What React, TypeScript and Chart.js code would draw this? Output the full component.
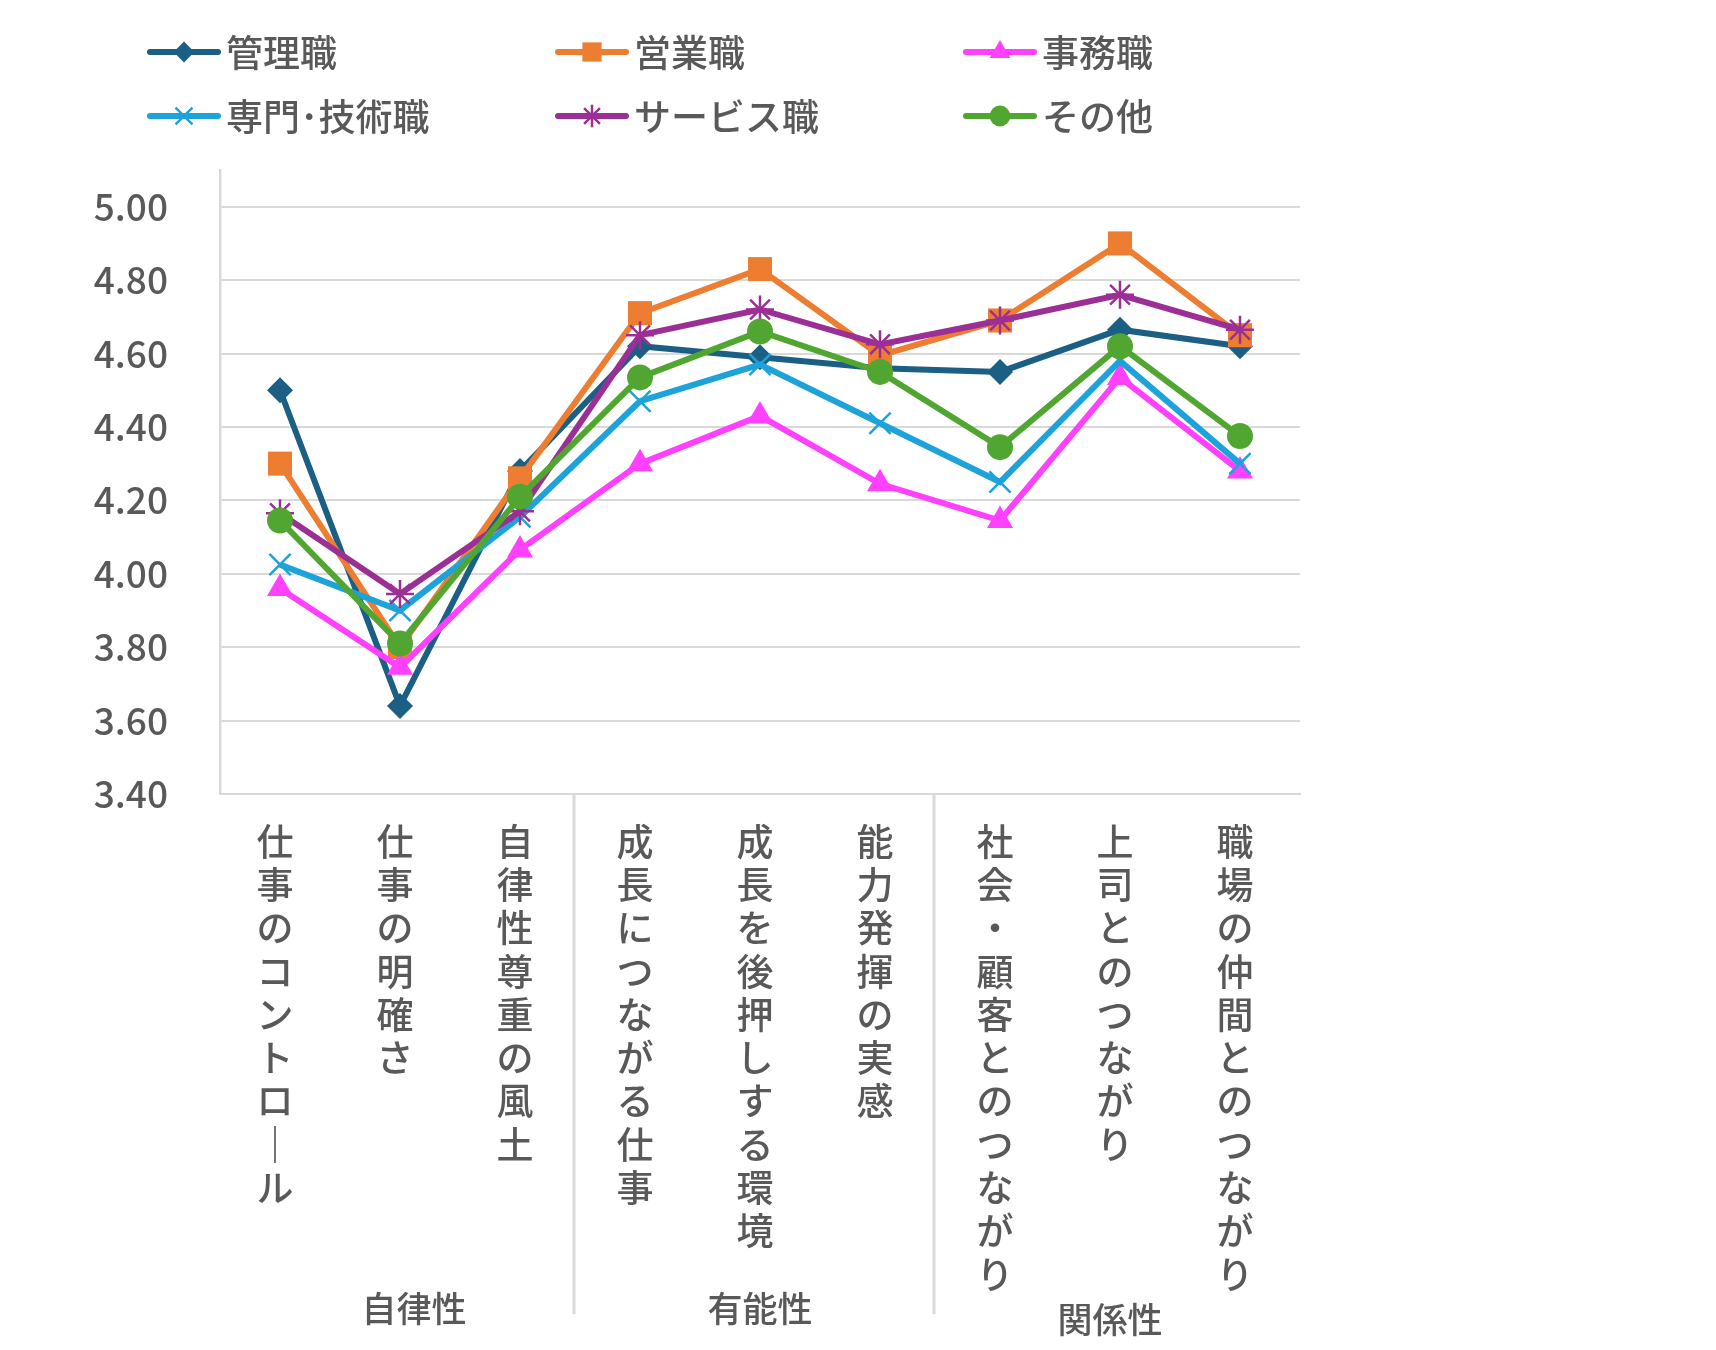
import { Chart, registerables } from "chart.js"
import { drawPoint } from "chart.js/helpers"
import { useEffect, useRef } from "react"

Chart.register(...registerables)

// 設問項目（横軸）
const categories = [
    "仕事のコントロール",
    "仕事の明確さ",
    "自律性尊重の風土",
    "成長につながる仕事",
    "成長を後押しする環境",
    "能力発揮の実感",
    "社会・顧客とのつながり",
    "上司とのつながり",
    "職場の仲間とのつながり",
]
const groups = ["自律性", "有能性", "関係性"]
const groupSizes = [3, 3, 3]

const seriesNames = ["管理職", "営業職", "事務職", "専門･技術職", "サービス職", "その他"]
const kanri = [4.50, 3.64, 4.28, 4.62, 4.59, 4.56, 4.55, 4.665, 4.62]
const eigyo = [4.30, 3.80, 4.26, 4.71, 4.83, 4.595, 4.69, 4.90, 4.65]
const jimu = [3.96, 3.745, 4.065, 4.30, 4.43, 4.245, 4.145, 4.535, 4.28]
const senmon = [4.025, 3.90, 4.155, 4.47, 4.57, 4.41, 4.25, 4.58, 4.30]
const service = [4.165, 3.945, 4.17, 4.65, 4.72, 4.625, 4.69, 4.76, 4.665]
const sonota = [4.145, 3.81, 4.21, 4.535, 4.66, 4.55, 4.345, 4.62, 4.375]

const yTicks = [3.4, 3.6, 3.8, 4.0, 4.2, 4.4, 4.6, 4.8, 5.0]

const colors = ["#1c5f84", "#ed7d31", "#ff40ff", "#1ea2da", "#9c2f96", "#51a632"]
const markers = ["rectRot", "rect", "triangle", "crossRot", "star", "circle"]
const markerSizes = [13, 17, 15, 15, 14, 13]

const FONT = "'Noto Sans CJK JP', 'Noto Sans', sans-serif"
const TEXT = "#595959"
const GRID = "#d9d9d9"

const allSeries = [kanri, eigyo, jimu, senmon, service, sonota]

// 縦書きラベル：1文字ずつ改行
const toVertical = (s: string) => s.split("").map(c => (c === "ー" ? "｜" : c))

const legendPlugin = {
    id: "gridLegend",
    afterDraw(chart: any) {
        const ctx = chart.ctx
        ctx.save()
        chart.data.datasets.forEach((ds: any, i: number) => {
            const x = 142 + (i % 3) * 408
            const y = 44 + Math.floor(i / 3) * 64
            ctx.strokeStyle = ds.borderColor
            ctx.lineWidth = 6
            ctx.lineCap = "round"
            ctx.beginPath()
            ctx.moveTo(x, y)
            ctx.lineTo(x + 68, y)
            ctx.stroke()
            ctx.lineCap = "butt"
            ctx.fillStyle = ds.pointBackgroundColor
            ctx.strokeStyle = ds.pointBorderColor
            ctx.lineWidth = ds.pointBorderWidth
            drawPoint(ctx, { pointStyle: ds.pointStyle, rotation: 0, borderWidth: ds.pointBorderWidth, radius: ds.pointRadius * 0.8 }, x + 34, y)
            ctx.fillStyle = TEXT
            ctx.font = `500 37px ${FONT}`
            ctx.textBaseline = "middle"
            ctx.textAlign = "left"
            ctx.fillText(ds.label, x + 76, y + 1)
        })
        ctx.restore()
    },
}

const groupPlugin = {
    id: "groupAxis",
    afterDraw(chart: any) {
        const ctx = chart.ctx
        const xs = chart.scales.x
        const bottom = chart.chartArea.bottom
        ctx.save()
        let start = 0
        groups.forEach((g, gi) => {
            const end = start + groupSizes[gi]
            if (gi > 0) {
                const sx = xs.getPixelForValue(start - 0.5) - 6
                ctx.strokeStyle = GRID
                ctx.lineWidth = 3
                ctx.beginPath()
                ctx.moveTo(sx, bottom)
                ctx.lineTo(sx, 1306)
                ctx.stroke()
            }
            const cx = xs.getPixelForValue((start + end - 1) / 2)
            ctx.fillStyle = TEXT
            ctx.font = `500 35px ${FONT}`
            ctx.textAlign = "center"
            ctx.textBaseline = "middle"
            ctx.fillText(g, cx + (gi === 0 ? 14 : gi === 2 ? -10 : 0), gi === 2 ? 1312 : 1301)
            start = end
        })
        ctx.restore()
    },
}

const App = () => {
    const canvasRef = useRef<HTMLCanvasElement>(null)

    useEffect(() => {
        if (!canvasRef.current) return
        const myChart = new Chart(canvasRef.current, {
            type: "line",
            data: {
                labels: categories,
                datasets: seriesNames.map((name, i) => ({
                    label: name,
                    data: allSeries[i],
                    borderColor: colors[i],
                    backgroundColor: colors[i],
                    borderWidth: 6,
                    pointStyle: markers[i] as any,
                    pointRadius: markerSizes[i],
                    pointHoverRadius: markerSizes[i],
                    pointBackgroundColor: colors[i],
                    pointBorderColor: colors[i],
                    pointBorderWidth: markers[i] === "crossRot" || markers[i] === "star" ? 2.5 : 0,
                    tension: 0,
                    order: seriesNames.length - i,
                })),
            },
            options: {
                animation: false,
                responsive: false,
                devicePixelRatio: 1,
                layout: { padding: { top: 162, right: 408, left: 0, bottom: 0 } },
                plugins: {
                    legend: { display: false },
                    tooltip: { enabled: false },
                },
                scales: {
                    x: {
                        offset: true,
                        grid: { display: false, drawTicks: false, offset: true },
                        border: { display: true, color: GRID, width: 2 },
                        ticks: {
                            autoSkip: false,
                            maxRotation: 0,
                            minRotation: 0,
                            padding: 26,
                            labelOffset: -5,
                            color: TEXT,
                            font: { family: FONT, size: 37, weight: 500, lineHeight: 1.17 },
                            callback: (_v: any, idx: number) => toVertical(categories[idx]),
                        },
                        afterFit: (scale: any) => {
                            scale.height = 548
                        },
                    },
                    y: {
                        min: 3.4,
                        max: 5.1,
                        grid: { color: GRID, lineWidth: 2, drawTicks: false },
                        border: { display: true, color: GRID, width: 2.5 },
                        afterBuildTicks: (scale: any) => {
                            scale.ticks = yTicks.map(v => ({ value: v }))
                        },
                        afterFit: (scale: any) => {
                            scale.width = 212
                        },
                        ticks: {
                            padding: 52,
                            color: TEXT,
                            font: { family: FONT, size: 37, weight: 500 },
                            callback: (v: any) => Number(v).toFixed(2),
                        },
                    },
                },
            },
            plugins: [legendPlugin, groupPlugin],
        })
        return () => {
            myChart.destroy()
        }
    }, [])

    return (
        <div style={{ width: 1700, height: 1334 }}>
            <canvas ref={canvasRef} width={1700} height={1334}></canvas>
        </div>
    )
}

export default App
